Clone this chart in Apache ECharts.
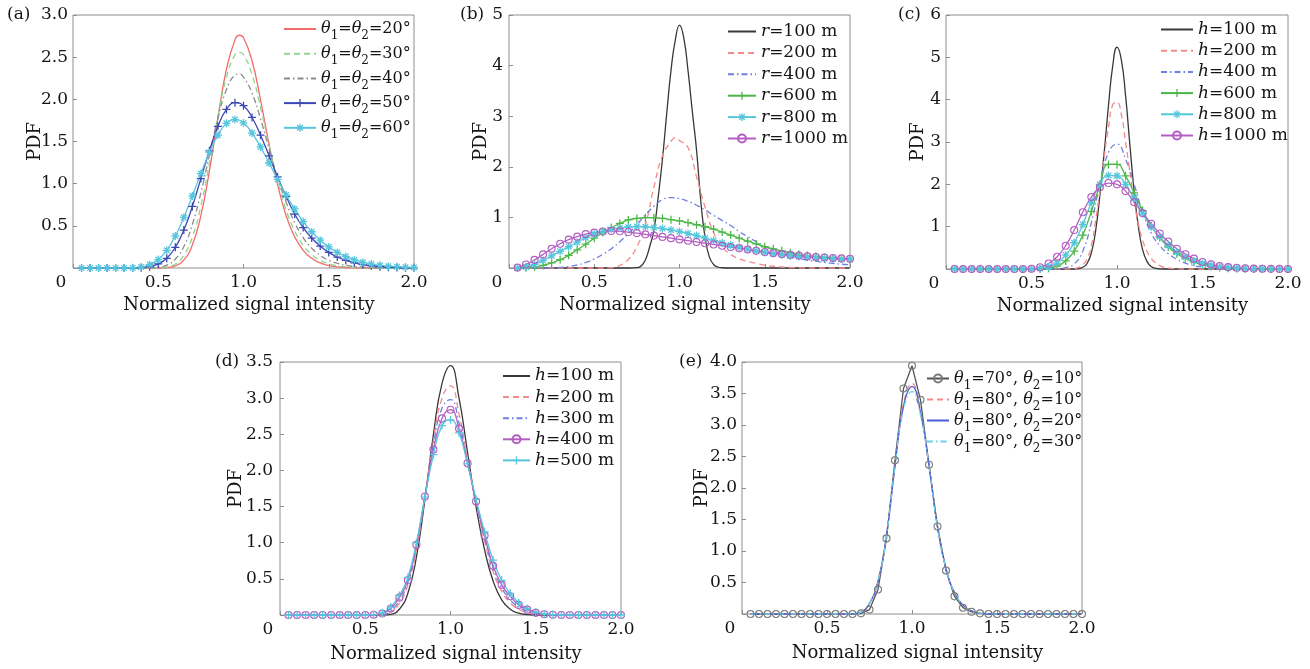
<!DOCTYPE html>
<html><head><meta charset="utf-8">
<script src="https://cdn.jsdelivr.net/npm/echarts@6/dist/echarts.min.js"></script>
<style>html,body{margin:0;padding:0;background:#fff}#c{width:1310px;height:669px}</style>
</head><body><div id="c"></div>
<script>
// ---------- data ----------
const xGrid = [0.05,0.1,0.15,0.2,0.25,0.3,0.35,0.4,0.45,0.5,0.55,0.6,0.65,0.7,0.75,0.8,0.85,0.9,0.95,1,1.05,1.1,1.15,1.2,1.25,1.3,1.35,1.4,1.45,1.5,1.55,1.6,1.65,1.7,1.75,1.8,1.85,1.9,1.95,2];
const xGridP = [0.05,0.1,0.15,0.2,0.25,0.3,0.35,0.4,0.45,0.5,0.55,0.6,0.65,0.7,0.75,0.8,0.85,0.9,0.95,0.975,1,1.05,1.1,1.15,1.2,1.25,1.3,1.35,1.4,1.45,1.5,1.55,1.6,1.65,1.7,1.75,1.8,1.85,1.9,1.95,2];
const xTicks = [0, 0.5, 1.0, 1.5, 2.0];

// (a)
const legA = ['θ1=θ2=20°','θ1=θ2=30°','θ1=θ2=40°','θ1=θ2=50°','θ1=θ2=60°'];
const pdfA20 = [0,0,0,0,0,0,0,0,0,0,0.005,0.025,0.094,0.272,0.62,1.151,1.784,2.358,2.705,2.76,2.73,2.457,1.991,1.467,0.991,0.62,0.37,0.21,0.115,0.06,0.03,0.014,0.006,0.002,0.001,0,0,0,0,0,0];
const pdfA30 = [0,0,0,0,0,0,0,0,0,0.002,0.012,0.048,0.149,0.366,0.736,1.242,1.795,2.264,2.53,2.56,2.53,2.295,1.903,1.455,1.032,0.69,0.44,0.27,0.16,0.09,0.05,0.026,0.013,0.006,0.003,0.001,0,0,0,0,0];
const pdfA40 = [0,0,0,0,0,0,0,0,0.002,0.009,0.034,0.104,0.254,0.516,0.891,1.337,1.776,2.115,2.286,2.30,2.264,2.074,1.768,1.413,1.07,0.78,0.54,0.36,0.235,0.15,0.09,0.055,0.032,0.018,0.01,0.005,0.002,0,0,0,0];
const pdfA50 = [0,0,0,0,0,0,0.001,0.004,0.015,0.048,0.115,0.245,0.45,0.73,1.06,1.39,1.68,1.88,1.96,1.925,1.785,1.575,1.33,1.08,0.85,0.64,0.48,0.355,0.26,0.185,0.13,0.09,0.06,0.04,0.026,0.016,0.01,0.006,0.003,0.002];
const pdfA60 = [0,0,0,0,0,0,0.003,0.012,0.04,0.10,0.21,0.38,0.60,0.855,1.12,1.37,1.575,1.715,1.76,1.72,1.60,1.435,1.245,1.05,0.865,0.70,0.55,0.43,0.33,0.25,0.185,0.135,0.097,0.068,0.047,0.032,0.021,0.014,0.009,0.006];

// (b)
const legB = ['r=100 m','r=200 m','r=400 m','r=600 m','r=800 m','r=1000 m'];
const xB100 = [0.05,0.7,0.75,0.775,0.8,0.825,0.85,0.875,0.9,0.925,0.95,0.975,1,1.025,1.05,1.075,1.1,1.125,1.15,1.175,1.2,1.225,1.25,1.3,2];
const pdfB100 = [0,0,0.008,0.04,0.16,0.42,0.75,1.4,2.15,3.05,3.9,4.5,4.8,4.55,3.9,3.1,2.33,1.32,0.6,0.22,0.07,0.02,0.005,0,0];
const pdfB200 = [0,0,0,0,0,0,0,0,0,0,0,0.005,0.05,0.17,0.42,0.85,1.6,2.22,2.50,2.575,2.52,2.38,1.8,1.2,0.7,0.42,0.27,0.18,0.13,0.09,0.055,0.035,0.02,0.01,0.005,0,0,0,0,0,0];
const pdfB400 = [0,0,0,0,0.003,0.012,0.03,0.06,0.11,0.18,0.27,0.38,0.52,0.68,0.86,1.05,1.22,1.35,1.39,1.37,1.32,1.24,1.15,1.04,0.94,0.84,0.72,0.62,0.52,0.43,0.35,0.285,0.23,0.19,0.155,0.13,0.11,0.09,0.075,0.065];
const pdfB600 = [0,0.005,0.02,0.05,0.10,0.165,0.25,0.36,0.47,0.59,0.70,0.80,0.88,0.95,0.98,0.995,0.995,0.98,0.955,0.93,0.895,0.855,0.815,0.77,0.71,0.65,0.59,0.53,0.475,0.42,0.38,0.34,0.30,0.27,0.245,0.225,0.21,0.195,0.18,0.17];
const pdfB800 = [0,0.02,0.07,0.15,0.24,0.33,0.42,0.51,0.60,0.67,0.72,0.76,0.79,0.81,0.82,0.815,0.80,0.78,0.75,0.72,0.68,0.64,0.59,0.545,0.50,0.455,0.41,0.37,0.335,0.305,0.28,0.26,0.24,0.225,0.21,0.20,0.19,0.183,0.177,0.172];
const pdfB1000 = [0.01,0.07,0.16,0.27,0.38,0.48,0.56,0.62,0.67,0.70,0.72,0.73,0.725,0.71,0.69,0.665,0.64,0.615,0.59,0.565,0.54,0.515,0.49,0.465,0.44,0.415,0.39,0.365,0.34,0.315,0.295,0.275,0.26,0.245,0.23,0.218,0.207,0.198,0.19,0.183];

// (c)
const legC = ['h=100 m','h=200 m','h=400 m','h=600 m','h=800 m','h=1000 m'];
const xC100 = [0.05,0.75,0.775,0.8,0.825,0.85,0.875,0.9,0.925,0.95,0.975,1,1.025,1.05,1.075,1.1,1.125,1.15,1.175,1.2,1.225,1.25,1.3,2];
const pdfC100 = [0,0,0.01,0.04,0.13,0.38,0.9,1.75,2.75,3.85,4.8,5.24,4.95,4.1,2.95,1.85,1.0,0.45,0.18,0.06,0.02,0.005,0,0];
const xC200 = [0.05,0.7,0.75,0.775,0.8,0.825,0.85,0.875,0.9,0.925,0.95,0.975,1,1.025,1.05,1.075,1.1,1.125,1.15,1.175,1.2,1.225,1.25,1.275,1.3,1.35,1.4,2];
const pdfC200 = [0,0,0.01,0.04,0.1,0.24,0.55,1.15,1.85,2.65,3.35,3.88,3.94,3.65,3.0,2.3,1.6,1.07,0.68,0.42,0.25,0.15,0.08,0.04,0.02,0.005,0,0];
const pdfC400 = [0,0,0,0,0,0,0,0,0,0,0,0,0.005,0.03,0.12,0.42,1.1,2.0,2.75,2.95,2.6,2.0,1.35,0.85,0.55,0.36,0.23,0.14,0.08,0.045,0.025,0.012,0.005,0,0,0,0,0,0,0];
const pdfC600 = [0,0,0,0,0,0,0,0,0,0,0,0.02,0.07,0.19,0.42,0.8,1.36,1.98,2.47,2.47,2.2,1.8,1.38,1.02,0.74,0.52,0.36,0.245,0.16,0.1,0.06,0.035,0.02,0.01,0.005,0.002,0,0,0,0];
const pdfC800 = [0,0,0,0,0,0,0,0,0,0,0.01,0.05,0.14,0.33,0.62,1.05,1.57,2.0,2.21,2.2,2.0,1.67,1.31,1.0,0.76,0.56,0.40,0.28,0.19,0.125,0.08,0.05,0.03,0.018,0.01,0.005,0.003,0.001,0,0];
const pdfC1000 = [0,0,0,0,0,0,0,0,0,0.005,0.04,0.13,0.29,0.55,0.92,1.34,1.70,1.93,2.03,2.0,1.84,1.58,1.32,1.07,0.84,0.65,0.48,0.35,0.245,0.165,0.11,0.07,0.045,0.028,0.017,0.01,0.006,0.003,0.002,0.001];

// (d)
const legD = ['h=100 m','h=200 m','h=300 m','h=400 m','h=500 m'];
const pdfD100 = [0,0,0,0,0,0,0,0,0,0,0,0,0.01,0.08,0.3,0.8,1.6,2.5,3.2,3.45,3.0,2.25,1.5,0.9,0.47,0.21,0.08,0.025,0.007,0,0,0,0,0,0,0,0,0,0,0];
const pdfD200 = [0,0,0,0,0,0,0,0,0,0,0,0,0.04,0.16,0.42,0.9,1.63,2.42,3.0,3.17,2.78,2.15,1.55,1.02,0.6,0.33,0.17,0.08,0.035,0.012,0.004,0,0,0,0,0,0,0,0,0];
const pdfD300 = [0,0,0,0,0,0,0,0,0,0,0,0,0.06,0.2,0.45,0.94,1.64,2.36,2.86,2.98,2.66,2.12,1.56,1.06,0.65,0.38,0.21,0.11,0.05,0.02,0.006,0,0,0,0,0,0,0,0,0];
const pdfD400 = [0,0,0,0,0,0,0,0,0,0,0.003,0.02,0.09,0.24,0.48,0.97,1.64,2.29,2.72,2.84,2.58,2.10,1.57,1.10,0.68,0.42,0.26,0.14,0.075,0.03,0.01,0.003,0,0,0,0,0,0,0,0];
const pdfD500 = [0,0,0,0,0,0,0,0,0,0,0.005,0.03,0.11,0.27,0.52,1.0,1.63,2.22,2.62,2.70,2.52,2.09,1.60,1.15,0.76,0.48,0.30,0.17,0.09,0.04,0.015,0.005,0,0,0,0,0,0,0,0];

// (e)
const legE = ['θ1=70°, θ2=10°','θ1=80°, θ2=10°','θ1=80°, θ2=20°','θ1=80°, θ2=30°'];
const pdfE1 = [0,0,0,0,0,0,0,0,0,0,0,0,0,0.01,0.07,0.39,1.20,2.44,3.58,3.94,3.40,2.37,1.39,0.69,0.28,0.10,0.035,0.01,0,0,0,0,0,0,0,0,0,0,0,0];
const pdfE2 = [0,0,0,0,0,0,0,0,0,0,0,0,0.003,0.03,0.17,0.52,1.25,2.35,3.33,3.66,3.22,2.35,1.38,0.72,0.34,0.14,0.05,0.015,0.004,0,0,0,0,0,0,0,0,0,0,0];
const pdfE3 = [0,0,0,0,0,0,0,0,0,0,0,0,0.003,0.03,0.17,0.52,1.25,2.35,3.30,3.61,3.20,2.35,1.38,0.72,0.34,0.14,0.05,0.015,0.004,0,0,0,0,0,0,0,0,0,0,0];
const pdfE4 = [0,0,0,0,0,0,0,0,0,0,0,0,0.003,0.03,0.17,0.52,1.25,2.35,3.25,3.53,3.16,2.35,1.38,0.72,0.34,0.14,0.05,0.015,0.004,0,0,0,0,0,0,0,0,0,0,0];

// ---------- styling / layout ----------
const FONT = 'DejaVu Serif';
const TXT = '#151515';
const BOX = '#8e8e8e';
const DASH = [6,4], DASHDOT = [6,3,1.5,3];
const PLUS = 'path://M-1.6,-10H1.6V-1.6H10V1.6H1.6V10H-1.6V1.6H-10V-1.6H-1.6Z';
const STAR = 'path://M-1.6,-10L1.6,-10L1.6,10L-1.6,10Z M-10,-1.6L10,-1.6L10,1.6L-10,1.6Z M-5.94,-8.2L8.2,5.94L5.94,8.2L-8.2,-5.94Z M5.94,-8.2L8.2,-5.94L-5.94,8.2L-8.2,5.94Z';

const panels = [
  {label:'(a)', left:73,  top:15,  width:341, height:253, ymax:3,   yint:0.5, dec:1, yGap:29, yMargin:5, xGap:28.5, tl:7,   tt:6,
   lg:{left:283, top:16, iw:32, gap:-1.3, fs:16}},
  {label:'(b)', left:509, top:15,  width:341, height:253, ymax:5,   yint:1,   dec:0, yGap:19, yMargin:6, xGap:28.5, tl:460, tt:6,
   lg:{left:727, top:23, iw:28, gap:4.4, fs:17}},
  {label:'(c)', left:946, top:15,  width:342, height:254, ymax:6,   yint:1,   dec:0, yGap:18.5, yMargin:5, xGap:28.5, tl:898, tt:6,
   lg:{left:1160, top:21, iw:32, gap:4.2, fs:17}},
  {label:'(d)', left:280, top:362, width:341, height:253, ymax:3.5, yint:0.5, dec:1, yGap:34.5, yMargin:7, xGap:30.5, tl:215, tt:353,
   lg:{left:502, top:367.5, iw:27, gap:4.1, fs:17}},
  {label:'(e)', left:742, top:362, width:340, height:252, ymax:4,   yint:0.5, dec:1, yGap:31, yMargin:5, xGap:30.5, tl:679, tt:353,
   lg:{left:926, top:365.5, iw:22, gap:-5, fs:16}}
];

const labelOf = {};
function mk(p, id, label, xs, ys, color, type, sym, size, smooth, mcolor) {
  labelOf[id] = label;
  const s = {type:'line', name:id, xAxisIndex:p, yAxisIndex:p,
    data: xs.map((x,i)=>[x, ys[i]]),
    smooth: smooth === false ? false : 0.5, clip:false, animation:false, silent:true,
    lineStyle:{color:color, width:1.3, type:type}, emphasis:{disabled:true}};
  if (sym) {
    s.symbol = sym; s.symbolSize = size; s.showSymbol = true;
    s.itemStyle = sym === 'circle'
      ? {color:'rgba(255,255,255,0)', borderColor:mcolor||color, borderWidth:1.1}
      : {color:mcolor||color, borderWidth:0};
  } else {
    // invisible symbol so the legend shows a plain line
    s.symbol = 'circle'; s.symbolSize = 1; s.showSymbol = false;
    s.itemStyle = {color:'rgba(0,0,0,0)', borderWidth:0};
  }
  return s;
}

const C = {red:'#f26a6a', redD:'#f58a8a', greenL:'#8fd58f', gray:'#8a8a8a', blue:'#3a48b6',
  cyan:'#55c6dc', black:'#383838', blueD:'#6e7fe0', green:'#4cb648', purple:'#b35ec3',
  blueS:'#4a5cd6', cyanD:'#6fd2e0'};

const series = [
  mk(0,'a0',legA[0],xGridP,pdfA20,C.red,'solid'),
  mk(0,'a1',legA[1],xGridP,pdfA30,C.greenL,DASH),
  mk(0,'a2',legA[2],xGridP,pdfA40,C.gray,DASHDOT),
  mk(0,'a3',legA[3],xGrid,pdfA50,C.blue,'solid',PLUS,8),
  mk(0,'a4',legA[4],xGrid,pdfA60,C.cyan,'solid',STAR,8),

  mk(1,'b0',legB[0],xB100,pdfB100,C.black,'solid'),
  mk(1,'b1',legB[1],xGridP,pdfB200,C.redD,DASH),
  mk(1,'b2',legB[2],xGrid,pdfB400,C.blueD,DASHDOT),
  mk(1,'b3',legB[3],xGrid,pdfB600,C.green,'solid',PLUS,8),
  mk(1,'b4',legB[4],xGrid,pdfB800,C.cyan,'solid',STAR,8),
  mk(1,'b5',legB[5],xGrid,pdfB1000,C.purple,'solid','circle',7),

  mk(2,'c0',legC[0],xC100,pdfC100,C.black,'solid'),
  mk(2,'c1',legC[1],xC200,pdfC200,C.redD,DASH),
  mk(2,'c2',legC[2],xGrid,pdfC400,C.blueD,DASHDOT),
  mk(2,'c3',legC[3],xGrid,pdfC600,C.green,'solid',PLUS,8),
  mk(2,'c4',legC[4],xGrid,pdfC800,C.cyan,'solid',STAR,8),
  mk(2,'c5',legC[5],xGrid,pdfC1000,C.purple,'solid','circle',7),

  mk(3,'d0',legD[0],xGrid,pdfD100,C.black,'solid'),
  mk(3,'d1',legD[1],xGrid,pdfD200,C.redD,DASH),
  mk(3,'d2',legD[2],xGrid,pdfD300,C.blueD,DASHDOT),
  mk(3,'d3',legD[3],xGrid,pdfD400,C.purple,'solid','circle',7),
  mk(3,'d4',legD[4],xGrid,pdfD500,C.cyan,'solid',PLUS,8),

  mk(4,'e0',legE[0],xGrid,pdfE1,'#555555','solid','circle',7,false,'#7a7a7a'),
  mk(4,'e1',legE[1],xGrid,pdfE2,C.redD,DASH),
  mk(4,'e2',legE[2],xGrid,pdfE3,C.blueS,'solid'),
  mk(4,'e3',legE[3],xGrid,pdfE4,C.cyanD,DASHDOT)
];

function richify(s) {
  let out = '', buf = '';
  const flush = () => { if (buf) { out += '{n|' + buf + '}'; buf = ''; } };
  for (let k = 0; k < s.length; k++) {
    const ch = s[k];
    if (ch === 'θ') {
      flush(); out += '{i|θ}';
      if (/\d/.test(s[k+1])) { out += '{s|' + s[k+1] + '}'; k++; }
    } else if ((ch === 'r' || ch === 'h') && k === 0) {
      flush(); out += '{i|' + ch + '}';
    } else buf += ch;
  }
  flush();
  return out;
}

const legendNames = [legA, legB, legC, legD, legE].map((arr, p) => arr.map((_, k) => 'abcde'[p] + k));

const option = {
  backgroundColor:'#ffffff',
  animation:false,
  title: panels.map(p => ({text:p.label, left:p.tl, top:p.tt, padding:0,
    textStyle:{fontFamily:FONT, fontSize:17, fontWeight:'normal', color:TXT}})),
  grid: panels.map(p => ({left:p.left, top:p.top, width:p.width, height:p.height,
    show:true, borderColor:BOX, borderWidth:1, backgroundColor:'rgba(0,0,0,0)', containLabel:false, outerBoundsMode:'none'})),
  xAxis: panels.map((p, i) => ({type:'value', gridIndex:i, min:xTicks[0], max:xTicks[xTicks.length-1], interval:xTicks[1]-xTicks[0],
    name:'Normalized signal intensity', nameLocation:'middle', nameGap:p.xGap, nameMoveOverlap:false,
    nameTextStyle:{fontFamily:FONT, fontSize:18, color:TXT, padding:[0,0,0,11]},
    axisLine:{show:false}, splitLine:{show:false},
    axisTick:{show:true, inside:true, length:4, lineStyle:{color:BOX, width:1}},
    axisLabel:{margin:6, fontFamily:FONT, fontSize:17, color:TXT,
      formatter: v => v === 0 ? '{z|0}' : v.toFixed(1),
      rich:{z:{fontFamily:FONT, fontSize:17, color:TXT, padding:[0,24,0,0]}}}})),
  yAxis: panels.map((p, i) => ({type:'value', gridIndex:i, min:0, max:p.ymax, interval:p.yint,
    name:'PDF', nameLocation:'middle', nameGap:p.yGap, nameRotate:90, nameMoveOverlap:false,
    nameTextStyle:{fontFamily:FONT, fontSize:18, color:TXT},
    axisLine:{show:false}, splitLine:{show:false},
    axisTick:{show:true, inside:true, length:4, lineStyle:{color:BOX, width:1}},
    axisLabel:{margin:p.yMargin, fontFamily:FONT, fontSize:17, color:TXT,
      formatter: v => v === 0 ? '' : v.toFixed(p.dec)}})),
  legend: panels.map((p, i) => ({
    data: legendNames[i], orient:'vertical', left:p.lg.left, top:p.lg.top, padding:0,
    itemWidth:p.lg.iw, itemHeight:10, itemGap:p.lg.gap, selectedMode:false,
    formatter: n => richify(labelOf[n]),
    textStyle:{fontFamily:FONT, fontSize:p.lg.fs, color:TXT,
      rich:{
        n:{fontFamily:FONT, fontSize:p.lg.fs, color:TXT},
        i:{fontFamily:FONT, fontSize:p.lg.fs, color:TXT, fontStyle:'italic'},
        s:{fontFamily:FONT, fontSize:12, color:TXT, lineHeight:1, padding:[14,0,0,0]}
      }}
  })),
  series: series
};

const chart = echarts.init(document.getElementById('c'), null, {renderer:'canvas', width:1310, height:669});
chart.setOption(option);
</script></body></html>
